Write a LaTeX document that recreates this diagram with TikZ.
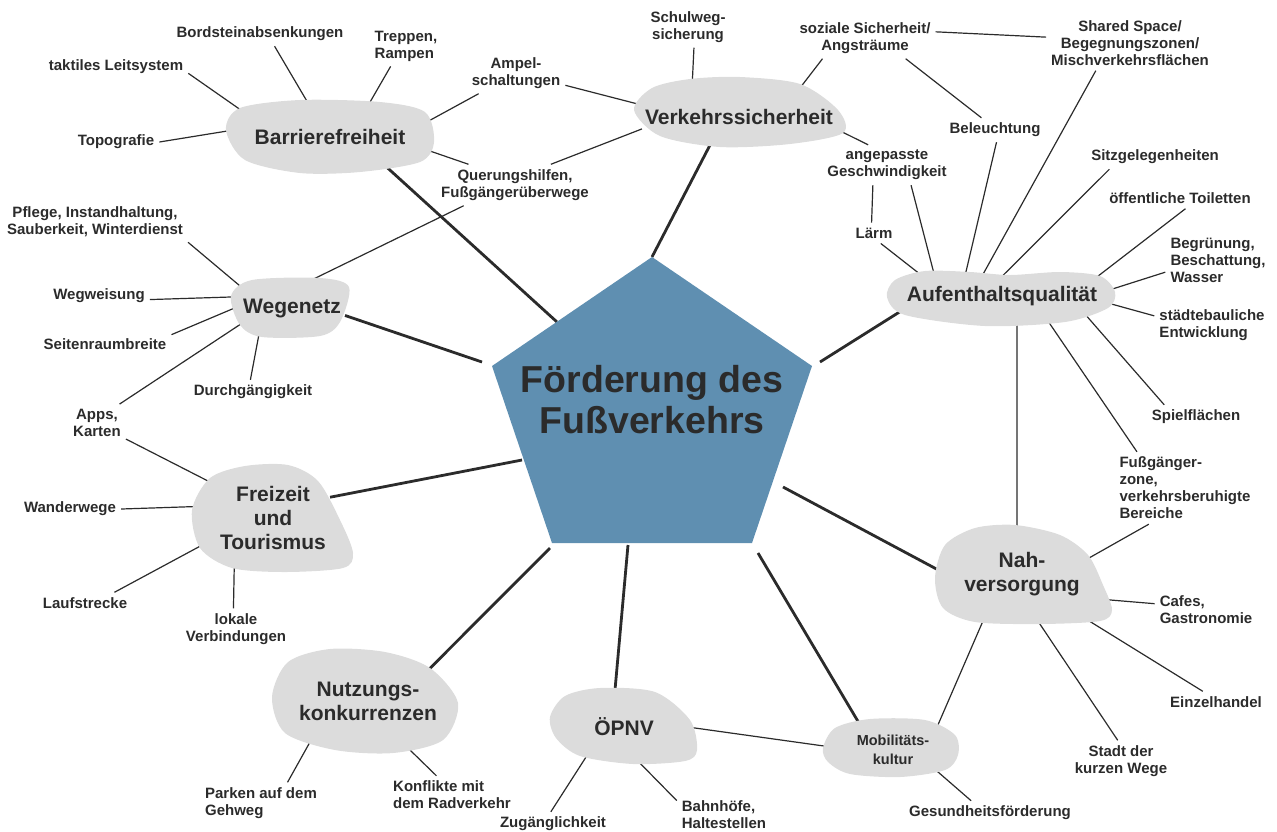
\documentclass[tikz,border=0pt]{standalone}
\usepackage{fontspec}
\setmainfont{Liberation Sans}
\definecolor{ink}{HTML}{2B2B2B}
\definecolor{bubblegrey}{HTML}{DCDCDC}
\definecolor{hubblue}{HTML}{5F8FB1}
\pgfdeclarelayer{wires}
\pgfdeclarelayer{blobs}
\pgfsetlayers{wires,blobs,main}
\tikzset{
  leaf/.style={font=\fontsize{15}{17}\selectfont\bfseries, text=ink, inner sep=5pt, align=center},
  topic/.style={font=\fontsize{21}{24}\selectfont\bfseries, text=ink, inner sep=4pt, align=center},
  twig/.style={draw=ink, line width=1.2pt},
  spoke/.style={draw=ink, line width=2.8pt},
}
\begin{document}
\begin{tikzpicture}[x=1pt, y=-1pt, line join=round, line cap=round]
\useasboundingbox (0,0) rectangle (1277,831);
\node[font=\fontsize{37.5}{41}\selectfont\bfseries, text=ink, align=center] (hub) at (652,400) {Förderung des\\Fußverkehrs};
\path
(557,322) coordinate (h1)
(652,257) coordinate (h2)
(482,362) coordinate (h3)
(522,460) coordinate (h4)
(550,548) coordinate (h5)
(628,545) coordinate (h6)
(758,553) coordinate (h7)
(783,487) coordinate (h8)
(820,362) coordinate (h9)
;
\node[topic] (barr) at (330,137) {Barrierefreiheit};
\node[topic] (verk) at (739,117) {Verkehrssicherheit};
\node[topic] (wege) at (292,308) {Wegenetz};
\node[topic] (frei) at (273,518) {Freizeit\\und\\Tourismus};
\node[topic] (nutz) at (368,701) {Nutzungs-\\konkurrenzen};
\node[topic] (oepnv) at (624,727) {ÖPNV};
\node[topic, font=\fontsize{14.5}{19}\selectfont\bfseries] (mobi) at (893,750) {Mobilitäts-\\kultur};
\node[topic] (nahv) at (1022,574) {Nah-\\versorgung};
\node[topic] (aufe) at (1002,296) {Aufenthaltsqualität};
\node[leaf] (bord) at (260,34) {Bordsteinabsenkungen};
\node[leaf, align=left] (trep) at (406,46) {Treppen,\\Rampen};
\node[leaf] (takt) at (116,67) {taktiles Leitsystem};
\node[leaf] (topo) at (116,142) {Topografie};
\node[leaf] (ampel) at (516,73) {Ampel-\\schaltungen};
\node[leaf] (quer) at (515,185) {Querungshilfen,\\Fußgängerüberwege};
\node[leaf] (schul) at (688,27) {Schulweg-\\sicherung};
\node[leaf] (sozi) at (865,38) {soziale Sicherheit/\\Angsträume};
\node[leaf] (shar) at (1130,43) {Shared Space/\\Begegnungszonen/\\Mischverkehrsflächen};
\node[leaf] (bele) at (995,130) {Beleuchtung};
\node[leaf] (anpa) at (887,165) {angepasste\\Geschwindigkeit};
\node[leaf] (laerm) at (874,233) {Lärm};
\node[leaf] (sitz) at (1155,157) {Sitzgelegenheiten};
\node[leaf] (toil) at (1180,198) {öffentliche Toiletten};
\node[leaf, align=left] (begr) at (1218,260) {Begrünung,\\Beschattung,\\Wasser};
\node[leaf, align=left] (staed) at (1212,325) {städtebauliche\\Entwicklung};
\node[leaf] (spiel) at (1196,417) {Spielflächen};
\node[leaf, align=left] (fuss) at (1185,488) {Fußgänger-\\zone,\\verkehrsberuhigte\\Bereiche};
\node[leaf, align=left] (cafe) at (1206,610) {Cafes,\\Gastronomie};
\node[leaf] (einz) at (1216,702) {Einzelhandel};
\node[leaf] (stadt) at (1121,761) {Stadt der\\kurzen Wege};
\node[leaf] (gesu) at (990,813) {Gesundheitsförderung};
\node[leaf, align=left] (bahn) at (724,815) {Bahnhöfe,\\Haltestellen};
\node[leaf] (zuga) at (553,824) {Zugänglichkeit};
\node[leaf, align=left] (park) at (261,803) {Parken auf dem\\Gehweg};
\node[leaf, align=left] (konf) at (452,795) {Konflikte mit\\dem Radverkehr};
\node[leaf] (lokal) at (236,629) {lokale\\Verbindungen};
\node[leaf] (lauf) at (85,603) {Laufstrecke};
\node[leaf] (wand) at (70,509) {Wanderwege};
\node[leaf] (apps) at (97,423) {Apps,\\Karten};
\node[leaf] (durch) at (253,392) {Durchgängigkeit};
\node[leaf] (seit) at (105,344) {Seitenraumbreite};
\node[leaf] (wegw) at (99,296) {Wegweisung};
\node[leaf] (pfle) at (95,222) {Pflege, Instandhaltung,\\Sauberkeit, Winterdienst};
\begin{pgfonlayer}{blobs}
\fill[hubblue] (h2) -- (812,366) -- (752,543) -- (552,543) -- (492,366) -- cycle;
\fill[bubblegrey] plot[smooth cycle] coordinates {(226,130) (240,108) (300,100) (380,102) (425,112) (434,142) (420,162) (360,172) (300,173) (245,160)};
\fill[bubblegrey] plot[smooth cycle] coordinates {(634,110) (652,88) (690,79) (740,77) (800,84) (838,110) (843,133) (790,144) (720,147) (660,136)};
\fill[bubblegrey] plot[smooth cycle] coordinates {(231,296) (252,280) (320,278) (349,287) (340,322) (320,336) (262,337) (240,325)};
\fill[bubblegrey] plot[smooth cycle] coordinates {(192,510) (210,478) (245,466) (288,465) (318,481) (340,520) (353,553) (343,568) (285,572) (232,568) (200,548)};
\fill[bubblegrey] plot[smooth cycle] coordinates {(272,697) (288,662) (330,649) (385,652) (430,668) (458,703) (443,740) (393,753) (335,750) (285,733)};
\fill[bubblegrey] plot[smooth cycle] coordinates {(550,717) (565,696) (600,688) (655,692) (690,720) (697,750) (685,761) (633,764) (580,756) (556,738)};
\fill[bubblegrey] plot[smooth cycle] coordinates {(823,748) (835,728) (870,719) (925,720) (955,735) (958,755) (945,770) (900,777) (850,774) (828,762)};
\fill[bubblegrey] plot[smooth cycle] coordinates {(935,578) (945,545) (975,528) (1015,525) (1060,535) (1088,555) (1103,585) (1112,610) (1100,621) (1040,624) (975,622) (943,608)};
\fill[bubblegrey] plot[smooth cycle] coordinates {(887,297) (895,280) (925,271) (970,272) (1010,275) (1060,272) (1100,276) (1115,292) (1108,308) (1065,322) (985,326) (905,315)};
\end{pgfonlayer}
\begin{pgfonlayer}{wires}
\foreach \src/\ang/\dst in {barr/-18/h1, verk/-150/h2, wege/-8/h3, frei/20/h4, nutz/24/h5, oepnv/130/h6, mobi/147/h7, nahv/-173/h8, aufe/-172/h9}
  \draw[spoke] (\src.\ang) -- (\dst);
\foreach \src/\ang/\dst/\anc in {barr/127/bord/-40, barr/24/trep/-127, barr/170/takt/-5, barr/173/topo/0, barr/4/ampel/-151, barr/-5/quer/156,
  verk/166/schul/-74, verk/173/ampel/-14, verk/-173/quer/30, verk/14/sozi/-154, verk/-7/anpa/133,
  wege/162/pfle/south east, wege/168/wegw/-4, wege/178/seit/8, wege/-164/apps/40, wege/-156/durch/102, wege/126/quer/-158,
  frei/150/apps/-29, frei/168/wand/0, frei/-161/lauf/20, frei/-137/lokal/97,
  nutz/-154/park/38, nutz/-56/konf/129,
  oepnv/-154/zuga/100, oepnv/-116/bahn/163, oepnv/7/mobi/180,
  mobi/-24/gesu/147, mobi/20/nahv/-139,
  nahv/101/aufe/-43, nahv/12/fuss/-135, nahv/-21/cafe/173, nahv/-38/einz/141, nahv/-86/stadt/99,
  aufe/169/laerm/-57, aufe/168/anpa/-40, aufe/160/bele/-83, aufe/149/shar/-141, aufe/112/sitz/-165, aufe/9/toil/-63,
  aufe/2/begr/-167, aufe/-3/staed/171, aufe/-10/spiel/159, aufe/-20/fuss/143,
  sozi/5/shar/176, sozi/-27/bele/138, anpa/-125/laerm/103}
  \draw[twig] (\src.\ang) -- (\dst.\anc);
\end{pgfonlayer}
\end{tikzpicture}
\end{document}
